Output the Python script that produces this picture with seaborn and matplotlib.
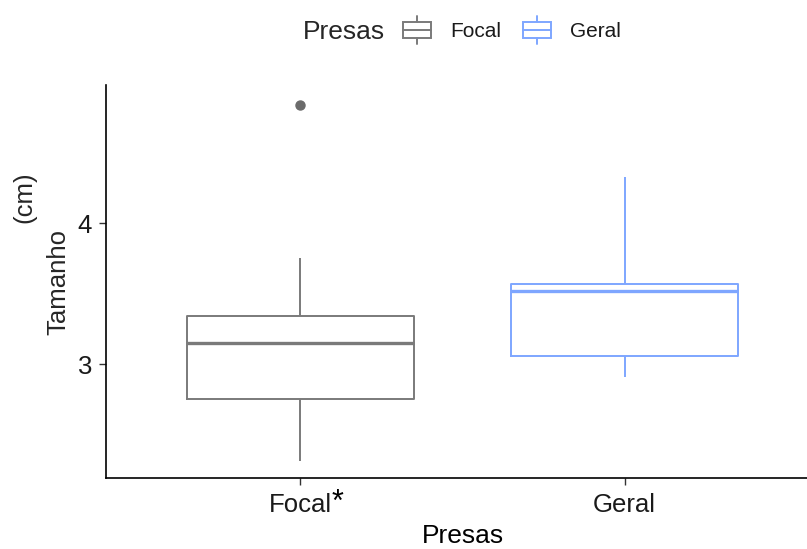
import pandas as pd
import seaborn as sns
import matplotlib.pyplot as plt
from matplotlib.legend_handler import HandlerBase
from matplotlib.lines import Line2D
from matplotlib.patches import Rectangle

## dados
grupos = ["Focal", "Geral"]
focal_vals = [2.31, 2.50, 2.75, 3.00, 3.15, 3.25, 3.34, 3.75, 4.84]
geral_vals = [2.91, 3.00, 3.06, 3.30, 3.52, 3.54, 3.57, 4.00, 4.33]
y_ticks = [3, 4]

cores = {"Focal": "#7a7a7a", "Geral": "#7ea6ff"}
fonte = "Liberation Sans"

df = pd.DataFrame({
    "Presas": ["Focal"] * len(focal_vals) + ["Geral"] * len(geral_vals),
    "Tamanho": focal_vals + geral_vals,
})

sns.set_style("ticks")
plt.rcParams["font.family"] = [fonte, "DejaVu Sans"]

fig = plt.figure(figsize=(8.07, 5.49), dpi=100)
W, H = 807, 549
ax = fig.add_axes([106 / W, 1 - 478 / H, (819 - 106) / W, (478 - 85) / H])

sns.boxplot(data=df, x="Presas", y="Tamanho", hue="Presas", palette=cores,
            fill=False, width=0.7, linewidth=1.4, legend=False, ax=ax,
            whis=1.5, showcaps=False,
            medianprops={"linewidth": 2.4},
            flierprops={"marker": "o", "markersize": 6.5,
                        "markerfacecolor": "#6b6b6b", "markeredgecolor": "#6b6b6b"})

ax.set_xlim(-0.6, 1.6)
ax.set_ylim(2.19, 4.983)
ax.set_yticks(y_ticks)
ax.set_yticklabels([str(t) for t in y_ticks])

for s in ["top", "right"]:
    ax.spines[s].set_visible(False)
for s in ["left", "bottom"]:
    ax.spines[s].set_color("black")
    ax.spines[s].set_linewidth(1.2)

ax.tick_params(axis="both", direction="out", length=5, width=1.0,
               color="#333333", labelsize=18.5, labelcolor="#1a1a1a")
ax.tick_params(axis="x", pad=6)
ax.tick_params(axis="y", pad=5)

ax.set_xlabel("Presas", fontsize=19, color="black", labelpad=5)
ax.set_ylabel("")
fig.text(58 / W, 1 - 282 / H, "Tamanho", rotation=90, fontsize=18.5,
         ha="center", va="center")
fig.text(24 / W, 1 - 197 / H, "(cm)", rotation=90, fontsize=18.5,
         ha="center", va="center")
fig.text(337 / W, 1 - 511 / H, "*", fontsize=22, ha="center", va="baseline",
         color="black")


## legenda com simbolo de boxplot
class BoxHandler(HandlerBase):
    def create_artists(self, legend, orig_handle, xdescent, ydescent,
                       width, height, fontsize, trans):
        c = orig_handle.get_color()
        x0, y0 = -xdescent, -ydescent
        bw = width * 0.95
        bx = x0 + (width - bw) / 2
        arts = [
            Rectangle((bx, y0 + height * 0.05), bw, height * 0.9,
                      fill=False, edgecolor=c, linewidth=1.4, transform=trans),
            Line2D([bx, bx + bw], [y0 + height * 0.5] * 2, color=c,
                   linewidth=1.4, transform=trans),
            Line2D([x0 + width / 2] * 2, [y0 - height * 0.25, y0 + height * 0.05],
                   color=c, linewidth=1.4, transform=trans),
            Line2D([x0 + width / 2] * 2, [y0 + height * 0.95, y0 + height * 1.25],
                   color=c, linewidth=1.4, transform=trans),
        ]
        return arts


fig.text(344 / W, 1 - 32 / H, "Presas", fontsize=19, ha="center", va="center")
handles = [Line2D([], [], color=cores[g]) for g in grupos]
leg = fig.legend(handles, grupos, loc="center",
                 bbox_to_anchor=(512 / W, 1 - 31 / H), ncol=2, frameon=False,
                 handler_map={Line2D: BoxHandler()}, fontsize=15,
                 handlelength=1.4, handleheight=1.0, borderpad=0,
                 handletextpad=0.9, columnspacing=1.0)
for t in leg.get_texts():
    t.set_color("#1a1a1a")

fig.savefig("out.png", dpi=100)
